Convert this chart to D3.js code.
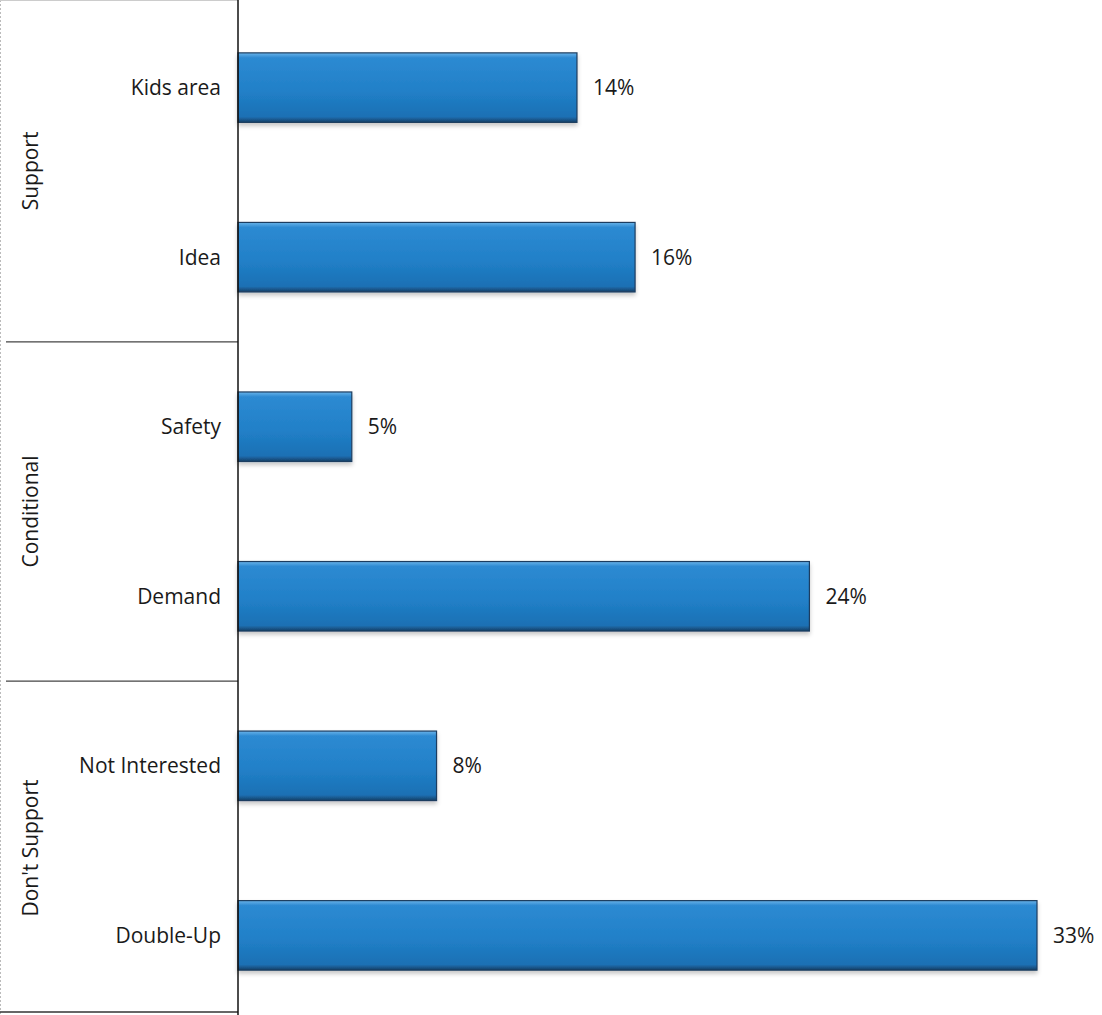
<!DOCTYPE html>
<html>
<head>
<meta charset="utf-8">
<script src="https://cdn.jsdelivr.net/npm/d3@7"></script>
<style>
  html, body { margin: 0; padding: 0; background: #fff; }
  svg { display: block; }
  text { font-family: "Open Sans", "Noto Sans", sans-serif; fill: #1a1a1a; }
</style>
</head>
<body>
<svg id="chart" width="1102" height="1015"></svg>
<script>
const categories = ["Kids area", "Idea", "Safety", "Demand", "Not Interested", "Double-Up"];
const values = [14, 16.4, 4.7, 23.6, 8.2, 33];
const valueLabels = ["14%", "16%", "5%", "24%", "8%", "33%"];
const groups = ["Support", "Conditional", "Don't Support"];
const groupOf = ["Support", "Support", "Conditional", "Conditional", "Don't Support", "Don't Support"];

const svg = d3.select("#chart");
const W = 1102, H = 1015;
const axisX = 238;

const y = d3.scaleBand().domain(categories).range([2, 1021]).paddingInner(0.59).paddingOuter(0.3);
const x = d3.scaleLinear().domain([0, 33]).range([axisX, 1037]);

const defs = svg.append("defs");
const grad = defs.append("linearGradient").attr("id", "barGrad").attr("x1", 0).attr("y1", 0).attr("x2", 0).attr("y2", 1);
grad.append("stop").attr("offset", "0%").attr("stop-color", "#6ab4ea");
grad.append("stop").attr("offset", "7%").attr("stop-color", "#2d8ad2");
grad.append("stop").attr("offset", "55%").attr("stop-color", "#2180c8");
grad.append("stop").attr("offset", "92%").attr("stop-color", "#1b70b4");
grad.append("stop").attr("offset", "100%").attr("stop-color", "#183f66");
const f = defs.append("filter").attr("id", "shadow").attr("x", "-5%").attr("y", "-10%").attr("width", "110%").attr("height", "130%");
f.append("feDropShadow").attr("dx", 0).attr("dy", 3).attr("stdDeviation", 2).attr("flood-color", "#000").attr("flood-opacity", 0.22);

// Frame lines
svg.append("line").attr("x1", 0.5).attr("x2", 0.5).attr("y1", 0).attr("y2", H).attr("stroke", "#bbb").attr("stroke-width", 1).attr("stroke-dasharray", "2,2");
svg.append("line").attr("x1", 0).attr("x2", axisX).attr("y1", 0.5).attr("y2", 0.5).attr("stroke", "#ccc");
svg.append("line").attr("x1", 0).attr("x2", axisX).attr("y1", H - 3).attr("y2", H - 3).attr("stroke", "#333").attr("stroke-width", 1.5);

// Group separators and labels
const step = y.step();
groups.forEach((g, gi) => {
  const members = categories.filter((c, i) => groupOf[i] === g);
  const top = y(members[0]) - y.paddingInner() * step / 2;
  const bot = y(members[members.length - 1]) + y.bandwidth() + y.paddingInner() * step / 2;
  if (gi > 0) {
    svg.append("line").attr("x1", 6).attr("x2", axisX).attr("y1", top).attr("y2", top)
      .attr("stroke", "#444").attr("stroke-width", 1.2);
  }
  const cy = gi === 0 ? (0 + bot) / 2 : gi === groups.length - 1 ? (top + H) / 2 : (top + bot) / 2;
  svg.append("text").attr("transform", `translate(38,${cy}) rotate(-90)`)
    .attr("text-anchor", "middle").attr("font-size", 21).text(g);
});

// Bars
svg.append("g").selectAll("rect").data(categories).join("rect")
  .attr("x", axisX)
  .attr("y", d => y(d))
  .attr("width", (d, i) => x(values[i]) - axisX)
  .attr("height", y.bandwidth())
  .attr("fill", "url(#barGrad)")
  .attr("stroke", "#1b3d60").attr("stroke-width", 1.2)
  .attr("filter", "url(#shadow)");

// Axis line
svg.append("line").attr("x1", axisX).attr("x2", axisX).attr("y1", 0).attr("y2", H)
  .attr("stroke", "#111").attr("stroke-width", 1.5);

// Category labels
svg.append("g").selectAll("text").data(categories).join("text")
  .attr("x", axisX - 17)
  .attr("y", d => y(d) + y.bandwidth() / 2)
  .attr("dy", "0.35em")
  .attr("text-anchor", "end")
  .attr("font-size", 21)
  .text(d => d);

// Value labels
svg.append("g").selectAll("text").data(categories).join("text")
  .attr("x", (d, i) => x(values[i]) + 16)
  .attr("y", d => y(d) + y.bandwidth() / 2)
  .attr("dy", "0.35em")
  .attr("font-size", 21)
  .text((d, i) => valueLabels[i]);
</script>
</body>
</html>
